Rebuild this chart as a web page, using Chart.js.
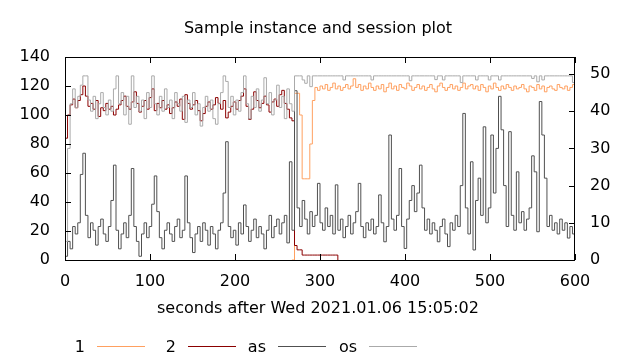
<!DOCTYPE html>
<html>
<head>
<meta charset="utf-8">
<script src="https://cdn.jsdelivr.net/npm/chart.js@4/dist/chart.umd.min.js"></script>
<style>
  html, body { margin: 0; padding: 0; background: #fff; }
  #wrap { width: 640px; height: 360px; }
</style>
</head>
<body>
<div id="wrap"><canvas id="plot"></canvas></div>
<script>
Chart.defaults.font.family = '"DejaVu Sans", sans-serif';
Chart.defaults.font.size = 16;
Chart.defaults.color = '#000';

const titleText = 'Sample instance and session plot';
const xTitle = 'seconds after Wed 2021.01.06 15:05:02';

// sample times, seconds (every 3 s)
const secs = [];
for (let t = 0; t <= 600; t += 3) secs.push(t);

const xTicks = [0, 100, 200, 300, 400, 500, 600];
const yTicks = [0, 20, 40, 60, 80, 100, 120, 140];
const y2Ticks = [0, 10, 20, 30, 40, 50];

// "1" (left axis)
const inst1 = [
  null,null,null,null,null,null,null,null,null,null,
  null,null,null,null,null,null,null,null,null,null,
  null,null,null,null,null,null,null,null,null,null,
  null,null,null,null,null,null,null,null,null,null,
  null,null,null,null,null,null,null,null,null,null,
  null,null,null,null,null,null,null,null,null,null,
  null,null,null,null,null,null,null,null,null,null,
  null,null,null,null,null,null,null,null,null,null,
  null,null,null,null,null,null,null,null,null,0,
  115,115,100,56,56,56,80,110,119,117,
  120,118,121,117,119,122,118,120,117,119,
  121,118,120,125,119,121,117,120,118,122,
  119,117,120,118,121,116,119,122,118,120,
  117,121,119,118,122,120,117,119,121,118,
  120,117,119,121,118,116,120,122,119,117,
  119,121,118,120,117,119,122,118,120,121,
  118,120,117,121,119,116,120,118,122,119,
  117,120,118,121,119,117,120,118,119,121,
  118,116,120,119,117,121,118,120,116,119,
  120,118,117,121,119,118,120,117,119,121,
  118
];

// "2" (left axis)
const inst2 = [
  84,100,107,111,105,110,114,120,113,106,
  108,104,110,99,105,103,108,104,106,100,
  104,107,110,113,106,104,109,116,108,102,
  106,110,104,112,118,103,108,105,110,104,
  107,101,105,109,106,111,97,114,108,104,
  107,110,103,96,101,106,109,104,107,112,
  108,104,110,98,102,106,109,104,110,113,
  118,106,97,104,116,110,105,108,113,107,
  102,109,111,106,114,117,108,104,98,96,
  10,7,7,3.4,3.4,3.4,3.4,3.4,3.4,3.4,
  3.4,3.4,3.4,3.4,3.4,3.4,3.4,0,null,null,
  null,null,null,null,null,null,null,null,null,null,
  null,null,null,null,null,null,null,null,null,null,
  null,null,null,null,null,null,null,null,null,null,
  null,null,null,null,null,null,null,null,null,null,
  null,null,null,null,null,null,null,null,null,null,
  null,null,null,null,null,null,null,null,null,null,
  null,null,null,null,null,null,null,null,null,null,
  null,null,null,null,null,null,null,null,null,null,
  null,null,null,null,null,null,null,null,null,null,
  null
];

// "as" (right axis)
const asVals = [
  1,5,3,9,7,10,23,28.7,12,6,
  10,8,4,9,11,7,5,9,16,25.5,
  8,3,7,10,6,12,24.6,9,5,1,
  7,10,6,9,15,22.6,13,6,3,8,
  10,7,5,9,11,6,8,22.6,10,6,
  2,7,9,5,10,8,4,9,7,3,
  8,10,18,31.8,9,6,8,4,10,7,
  14.8,9,5,8,11,6,9,7,3,8,
  12,6,9,11,7,10,12,4.6,26.4,8,
  45.5,14,9,16,11,7,13,9,12,20.6,
  10,8,14,9,12,7,20.2,8,11,6,
  9,12,7,10,13,20.6,9,6,10,8,
  11,7,9,17.5,10,4.9,9,33.6,11,8,
  12,24.6,9,3.1,11,16,20,13,18,25.5,
  14,8,11,7,10,8,4.9,9,11,7,
  3.6,10,8,12,9,20,39.4,14,7,26.4,
  2.7,16,22,12,35.8,10,14,33.6,18,30,
  44,35,20,9,34.5,12,8,23.7,10,13,
  8,11,14,28,23.7,7.6,42.6,33.6,22,9,
  12,8,10,7,11,8,10,5.9,9,7,
  0.5
];

// "os" (right axis)
const osVals = [
  5,30,42,46,41,44,47,49.5,49.5,43,
  40,44,38,42,45,41,39,43,40,46,
  49.5,42,45,39,44,36.5,49.5,41,44,40,
  43,38,45,41,49.5,42,39,44,40,46,
  41,43,38,45,42,40,44,37,43,41,
  45,39,42,36,41,44,40,43,38,36.5,
  42,45,49.5,48,41,44,39,43,40,45,
  49.5,42,38,44,41,46,40,43,49,42,
  45,39,43,47,41,44,38,46,42,40,
  49.5,49.5,49.5,48.4,47.5,49.5,46.6,49.5,49.5,49.5,
  49.5,49.5,49.5,49.5,49.5,49.5,49.5,49.5,49.5,48.4,
  49.5,49.5,49.5,49.5,49.5,49.5,49.5,49.5,49.5,49.5,
  48.4,49.5,49.5,49.5,49.5,49.5,49.5,49.5,49.5,49.5,
  49.5,49.5,49.5,49.5,49.5,48.2,49.5,49.5,49.5,49.5,
  49.5,49.5,49.5,49.5,49.5,48.5,49.5,49.5,48.4,49.5,
  49.5,49.5,49.5,49.5,49.5,47.7,49.5,49.5,49.5,49.5,
  49.5,48.4,49.5,49.5,49.5,49.5,48.4,49.5,49.5,49.5,
  48.4,49.5,49.5,49.5,49.5,49.5,49.5,49.5,49.5,49.5,
  49.5,49.5,49.5,48.8,49.5,47.9,49.5,48.4,49.5,49.5,
  49.5,49.5,49.5,49.5,49.5,49.5,49.5,49.5,49.5,47.7,
  49.5
];

const pts = vals => secs.map((t, i) => ({ x: t, y: vals[i] }));

function series(label, vals, color, axis, order) {
  return {
    label, data: pts(vals), yAxisID: axis, order,
    borderColor: color, backgroundColor: color,
    borderWidth: 1, pointRadius: 0, stepped: true, tension: 0, fill: false
  };
}

// border, inward tick marks, title, axis title and key (gnuplot style)
const gnuFrame = {
  id: 'gnuFrame',
  afterDraw(chart) {
    const { ctx, chartArea: a, scales } = chart;
    ctx.save();
    ctx.strokeStyle = '#000';
    ctx.lineWidth = 1;
    ctx.strokeRect(a.left + 0.5, a.top + 0.5, a.right - a.left - 1, a.bottom - a.top);
    ctx.beginPath();
    xTicks.forEach(v => {
      const px = Math.round(scales.x.getPixelForValue(v)) + 0.5;
      ctx.moveTo(px, a.bottom); ctx.lineTo(px, a.bottom - 6);
      ctx.moveTo(px, a.top); ctx.lineTo(px, a.top + 6);
    });
    yTicks.forEach(v => {
      const py = Math.round(scales.y.getPixelForValue(v)) + 0.5;
      ctx.moveTo(a.left, py); ctx.lineTo(a.left + 6, py);
    });
    y2Ticks.forEach(v => {
      const py = Math.round(scales.y1.getPixelForValue(v)) + 0.5;
      ctx.moveTo(a.right, py); ctx.lineTo(a.right - 6, py);
    });
    ctx.stroke();

    ctx.fillStyle = '#000';
    ctx.font = '16px "DejaVu Sans"';
    ctx.textBaseline = 'alphabetic';
    ctx.textAlign = 'center';
    ctx.fillText(titleText, 318, 33);
    ctx.fillText(xTitle, 318, 313);

    // key: label right-justified, sample line after it
    const keyX = [85, 176, 266, 357];
    ['1', '2', 'as', 'os'].forEach((name, i) => {
      const ds = chart.data.datasets.find(d => d.label === name);
      ctx.textAlign = 'right';
      ctx.fillStyle = '#000';
      ctx.fillText(name, keyX[i], 352);
      ctx.strokeStyle = ds.borderColor;
      ctx.beginPath();
      ctx.moveTo(keyX[i] + 12, 346.5);
      ctx.lineTo(keyX[i] + 60, 346.5);
      ctx.stroke();
    });
    ctx.restore();
  }
};

new Chart(document.getElementById('plot'), {
  type: 'line',
  data: {
    datasets: [
      series('1', inst1, '#ffa060', 'y', 3),
      series('2', inst2, '#8b0000', 'y', 2),
      series('as', asVals, '#505050', 'y1', 1),
      series('os', osVals, '#aaaaaa', 'y1', 0)
    ]
  },
  options: {
    responsive: true,
    maintainAspectRatio: false,
    animation: false,
    layout: { padding: { top: 57, left: 0, right: 0, bottom: 0 } },
    plugins: {
      legend: { display: false },
      title: { display: false },
      tooltip: { enabled: false }
    },
    scales: {
      x: {
        type: 'linear', min: 0, max: 600,
        grid: { display: false, drawTicks: false },
        border: { display: false },
        ticks: { stepSize: 100, padding: 12, maxRotation: 0 },
        afterFit: s => { s.height = 100; }
      },
      y: {
        position: 'left', min: 0, max: 140,
        grid: { display: false, drawTicks: false },
        border: { display: false },
        ticks: { stepSize: 20, padding: 15 },
        afterFit: s => { s.width = 65; }
      },
      y1: {
        position: 'right', min: 0, max: 54.57,
        grid: { display: false, drawTicks: false },
        border: { display: false },
        ticks: { stepSize: 10, padding: 15, includeBounds: false },
        afterFit: s => { s.width = 65; }
      }
    }
  },
  plugins: [gnuFrame]
});
</script>
</body>
</html>
